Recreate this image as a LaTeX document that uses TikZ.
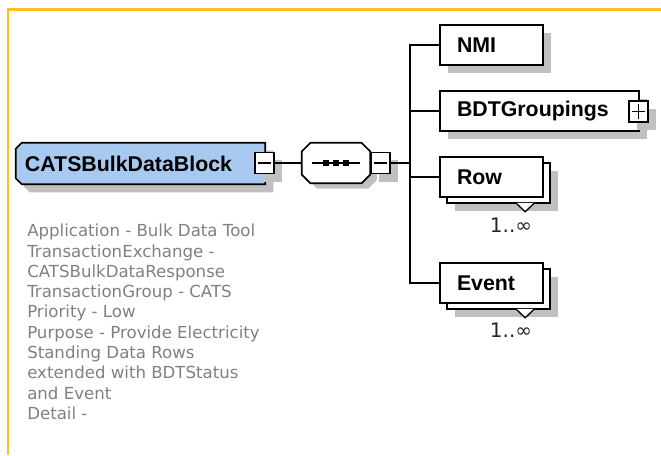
\documentclass[tikz,border=0pt]{standalone}
\usepackage{fontspec}
\setmainfont{DejaVu Sans}
\newfontfamily\libsans{Liberation Sans}
\usetikzlibrary{shadows,backgrounds}
\definecolor{frameorange}{RGB}{255,192,32}
\definecolor{blockblue}{RGB}{168,202,240}
\definecolor{shadowgray}{RGB}{192,192,192}
\definecolor{desctext}{RGB}{128,128,128}
% outline with the two left corners cut: #1 node, #2 cut, #3 shift options
\newcommand\leftchamfer[3]{([#3,xshift=#2]#1.north west) -- ([#3]#1.north east) -- ([#3]#1.south east)
  -- ([#3,xshift=#2]#1.south west) -- ([#3,yshift=#2]#1.south west) -- ([#3,yshift=-#2]#1.north west) -- cycle}
% octagon outline: #1 node, #2 cut, #3 shift options
\newcommand\octpath[3]{([#3,xshift=#2]#1.north west) -- ([#3,xshift=-#2]#1.north east) -- ([#3,yshift=-#2]#1.north east)
  -- ([#3,yshift=#2]#1.south east) -- ([#3,xshift=-#2]#1.south east) -- ([#3,xshift=#2]#1.south west)
  -- ([#3,yshift=#2]#1.south west) -- ([#3,yshift=-#2]#1.north west) -- cycle}
\begin{document}
\begin{tikzpicture}[x=0.75pt,y=-0.75pt,
  shad/.style={general shadow={fill=shadowgray, shadow xshift=6pt, shadow yshift=-6pt}},
  boldtext/.style={font=\libsans\bfseries\fontsize{16}{19}\selectfont},
  elem/.style={draw, line width=1.2pt, fill=white, rectangle, inner xsep=12.75pt, inner ysep=0pt,
    minimum height=30pt, align=left, boldtext},
  expander/.style={draw, line width=1.1pt, fill=white, rectangle, minimum width=14.5pt,
    minimum height=16pt, inner sep=0pt, shad},
  minus/.style={expander, path picture={\draw[line width=1.1pt]
    ([xshift=2.5pt]path picture bounding box.west) -- ([xshift=-2.5pt]path picture bounding box.east);}},
  plus/.style={expander, path picture={\draw[line width=1.1pt]
    ([xshift=2.5pt]path picture bounding box.west) -- ([xshift=-2.5pt]path picture bounding box.east)
    ([yshift=-2.5pt]path picture bounding box.north) -- ([yshift=2.5pt]path picture bounding box.south);}},
  conn/.style={line width=1.2pt},
  outline/.style={line width=1.2pt},
  mult/.style={font=\fontsize{15}{17}\selectfont, text=black!85, inner sep=0pt},
  notch/.style={fill=white, line width=1pt},
]
\useasboundingbox (0,0) rectangle (661,455);
\draw[frameorange, line width=2pt] (8,455) -- (8,9.7) -- (661,9.7);

% root element
\node[rectangle, minimum width=186.75pt, minimum height=30.75pt, text width=173.25pt,
  inner xsep=6.75pt, inner ysep=0pt, align=left, boldtext] (block) at (140.5,163.5) {CATSBulkDataBlock};
\node[minus] (blockexp) at (264.5,163) {};

% sequence compositor
\node[rectangle, minimum width=51pt, minimum height=30pt, inner sep=0pt] (seq) at (336,163) {};
\begin{scope}[on background layer]
  \fill[shadowgray] \leftchamfer{block}{4.5pt}{xshift=6pt,yshift=-6pt};
  \filldraw[outline, fill=blockblue] \leftchamfer{block}{4.5pt}{};
  \fill[shadowgray] \octpath{seq}{6.5pt}{xshift=5pt,yshift=-4pt};
  \filldraw[outline, fill=white] \octpath{seq}{6.5pt}{};
\end{scope}
\draw[line width=1pt] ([xshift=-18pt]seq.center) -- ([xshift=18pt]seq.center);
\foreach \d in {-7.5,0,7.5}
  \fill[black] ([xshift=\d pt]seq.center) +(-2pt,-2pt) rectangle +(2pt,2pt);
\node[minus] (seqexp) at (380.5,163) {};

% children
\node[elem, shad, text width=51.75pt] (nmi) at (491.5,45) {NMI};
\node[elem, shad, text width=123.75pt] (bdt) at (539.5,111) {BDTGroupings};
\node[plus] (bdtexp) at (638.5,111.5) {};

\node[elem, shad, text width=51.75pt] (rowback) at (498.5,183) {};
\filldraw[notch] ([xshift=13pt,yshift=0.7pt]rowback.south) -- ([xshift=20pt,yshift=-6pt]rowback.south) -- ([xshift=27pt,yshift=0.7pt]rowback.south);
\node[elem, text width=51.75pt] (row) at (491.5,177) {Row};
\node[mult] (rowmult) at (511,225) {1..∞};

\node[elem, shad, text width=51.75pt] (eventback) at (498.5,289) {};
\filldraw[notch] ([xshift=13pt,yshift=0.7pt]eventback.south) -- ([xshift=20pt,yshift=-6pt]eventback.south) -- ([xshift=27pt,yshift=0.7pt]eventback.south);
\node[elem, text width=51.75pt] (event) at (491.5,283) {Event};
\node[mult] (eventmult) at (511,330) {1..∞};

% description
\node[anchor=north west, inner sep=0pt, align=left, text=desctext,
  font=\fontsize{12.45}{15.2}\selectfont] (desc) at (27,224)
  {Application - Bulk Data Tool\\TransactionExchange -\\CATSBulkDataResponse\\TransactionGroup - CATS\\Priority - Low\\Purpose - Provide Electricity\\Standing Data Rows\\extended with BDTStatus\\and Event\\Detail -};

% connectors
\coordinate (spine) at (410,163);
\draw[conn] (blockexp.east) -- (seq.west);
\draw[conn] (seqexp.east) -- (spine);
\draw[conn] (nmi.west) -| (spine) |- (event.west);
\draw[conn] (bdt.west) -- (bdt.west -| spine);
\draw[conn] (row.west) -- (row.west -| spine);
\end{tikzpicture}
\end{document}
